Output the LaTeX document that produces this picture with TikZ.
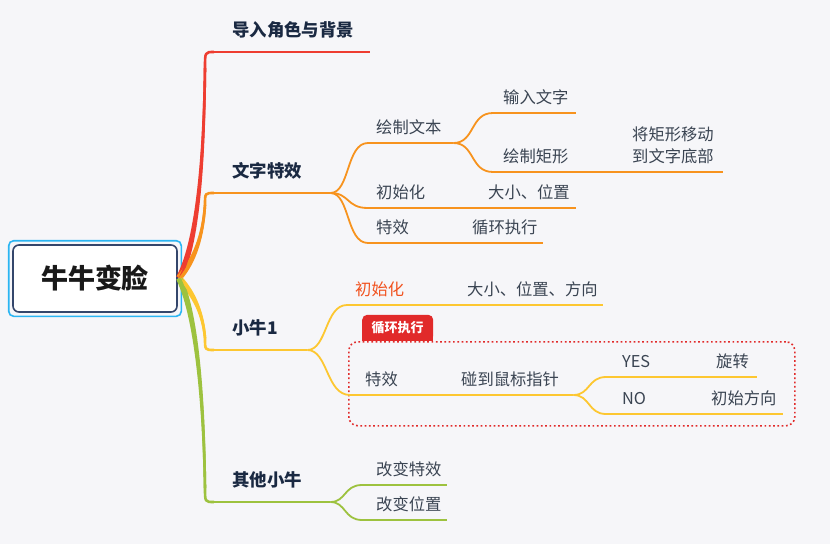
\documentclass[tikz,border=0pt]{standalone}
\usepackage{fontspec}
\setmainfont{Noto Sans CJK SC}
\definecolor{bgpaper}{HTML}{F6F6F9}
\definecolor{rootline}{HTML}{34466B}
\definecolor{rootcyan}{HTML}{2BB5F2}
\definecolor{bred}{HTML}{EE3D31}
\definecolor{borange}{HTML}{F7931E}
\definecolor{byellow}{HTML}{FDC731}
\definecolor{bgreen}{HTML}{9DC23F}
\definecolor{navy}{HTML}{1A2942}
\definecolor{slate}{HTML}{3A4452}
\definecolor{hilite}{HTML}{F1521F}
\definecolor{tabred}{HTML}{E12A2A}
\begin{document}
\begin{tikzpicture}[x=1pt,y=-1pt,
  rootbox/.style={draw=rootline, line width=1.6pt, fill=white, rounded corners=6pt,
    minimum width=164pt, minimum height=67pt, text=black!90,
    font=\bfseries\fontsize{27}{32}\selectfont},
  mtopic/.style={anchor=south west, inner xsep=18pt, inner ysep=15pt, text depth=0pt,
    align=left, text=navy, font=\bfseries\fontsize{17.4}{21}\selectfont},
  stopic/.style={anchor=south west, inner xsep=8pt, inner ysep=9pt, text depth=0pt,
    align=left, text=slate, font=\fontsize{16.3}{22}\selectfont},
  trunk/.style={line width=2.6pt},
  link/.style={line width=1.8pt},
  loopbox/.style={draw=tabred, line width=1.6pt, dash pattern=on 1.7pt off 2.6pt,
    rounded corners=9pt, anchor=north west, minimum width=446pt, minimum height=84pt},
  tab/.style={fill=tabred, rounded corners=5pt, anchor=south west, minimum width=71pt,
    minimum height=26pt, inner sep=0pt, text=white, font=\bfseries\fontsize{13}{15}\selectfont}]

  % paper
  \fill[bgpaper] (0,0) rectangle (830,544);
  \useasboundingbox (0,0) rectangle (830,544);

  % central topic
  \node[rootbox] (root) at (95,278.5) {牛牛变脸};
  \draw[rootcyan, line width=1.6pt, rounded corners=5pt]
    ([shift={(-3.5pt,3.5pt)}]root.north west) rectangle ([shift={(3.5pt,-3.5pt)}]root.south east);
  \coordinate (hub) at ([xshift=2pt]root.east);

  % main topics
  \node[mtopic, text width=120pt] (t1) at (214,52) {导入角色与背景};
  \node[mtopic, text width=80pt] (t2) at (214,193) {文字特效};
  \node[mtopic, text width=57pt] (t3) at (214,350) {小牛1};
  \node[mtopic, text width=80pt] (t4) at (214,502) {其他小牛};

  % text effect
  \node[stopic, text width=69pt] (s1) at (368,143) {绘制文本};
  \node[stopic, inner xsep=10pt, text width=63pt] (s11) at (493,113) {输入文字};
  \node[stopic, inner xsep=10pt, text width=107pt] (s12) at (493,172) {绘制矩形};
  \node[stopic, inner xsep=12pt, text width=79pt, text depth=22pt] (s121) at (620,172) {将矩形移动\\到文字底部};
  \node[stopic, text width=96pt] (s2) at (368,208) {初始化};
  \node[stopic, text width=80pt] (s21) at (480,208) {大小、位置};
  \node[stopic, text width=80pt] (s3) at (368,243) {特效};
  \node[stopic, text width=63pt] (s31) at (464,243) {循环执行};

  % calf 1
  \node[loopbox] (loop) at (348,341) {};
  \node[fill=tabred, anchor=south west, inner sep=0pt, minimum width=71pt, minimum height=13pt] (tabfoot) at (362,341) {};
  \node[tab] (tab) at (362,341) {循环执行};
  \node[stopic, text=hilite, text width=96pt] (u1) at (347,305) {初始化};
  \node[stopic, text width=128pt] (u11) at (459,305) {大小、位置、方向};
  \node[stopic, inner xsep=15pt, text width=73pt] (u2) at (350,395) {特效};
  \node[stopic, text width=104pt] (u21) at (453,395) {碰到鼠标指针};
  \node[stopic, inner xsep=16pt, text width=68pt] (y1) at (606,377) {YES};
  \node[stopic, inner xsep=10pt, text width=31pt] (y11) at (706,377) {旋转};
  \node[stopic, inner xsep=16pt, text width=63pt] (n1) at (606,414) {NO};
  \node[stopic, inner xsep=10pt, text width=62pt] (n11) at (701,414) {初始方向};

  % other calves
  \node[stopic, inner xsep=14pt, text width=57pt] (g1) at (362,485) {改变特效};
  \node[stopic, inner xsep=14pt, text width=57pt] (g2) at (362,520) {改变位置};

  % trunks, thick near the centre
  \fill[bred] (176.3,276.5) .. controls (196.5,239) and (202.7,150) .. (203.7,68)
    -- (206.3,68) .. controls (205.3,150) and (201.5,241) .. (181.7,279.5) -- cycle;
  \fill[borange] (177,275.7) .. controls (192.8,258) and (201.5,235) .. (203.7,205)
    -- (206.3,205) .. controls (204.5,235) and (197.2,262) .. (181,280.3) -- cycle;
  \fill[byellow] (181,275.7) .. controls (197.2,293) and (204.5,315) .. (206.3,338)
    -- (203.7,338) .. controls (201.5,315) and (192.8,297) .. (177,280.3) -- cycle;
  \fill[bgreen] (181.7,276.5) .. controls (201.5,319) and (205.3,420) .. (206.3,488)
    -- (203.7,488) .. controls (202.7,420) and (196.5,321) .. (176.3,279.5) -- cycle;
  \draw[trunk, bred] (hub) .. controls (199,240) and (204,150) .. (205,68)
    .. controls (205,52) .. (t1.south west);
  \draw[trunk, borange] (hub) .. controls (195,260) and (203,235) .. (205,205)
    .. controls (205,193) .. (t2.south west);
  \draw[trunk, byellow] (hub) .. controls (195,295) and (203,315) .. (205,338)
    .. controls (205,350) .. (t3.south west);
  \draw[trunk, bgreen] (hub) .. controls (199,320) and (204,420) .. (205,488)
    .. controls (205,502) .. (t4.south west);
  \foreach \n/\c in {t1/bred, t2/borange, t3/byellow, t4/bgreen}
    \draw[trunk, \c] (\n.south west) -- (\n.south east);

  % branches
  \draw[link, borange] (t2.south east) .. controls (350,193) and (346,143) .. (s1.south west);
  \draw[link, borange] (t2.south east) .. controls (350,193) and (346,208) .. (s2.south west);
  \draw[link, borange] (t2.south east) .. controls (350,193) and (346,243) .. (s3.south west);
  \draw[link, borange] (s1.south east) .. controls (475,143) and (470,113) .. (s11.south west);
  \draw[link, borange] (s1.south east) .. controls (475,143) and (470,172) .. (s12.south west);
  \draw[link, byellow] (t3.south east) .. controls (327,350) and (325,305) .. (u1.south west);
  \draw[link, byellow] (t3.south east) .. controls (328,350) and (326,395) .. (u2.south west);
  \draw[link, byellow] (u21.south east) .. controls (590,395) and (588,377) .. (y1.south west);
  \draw[link, byellow] (u21.south east) .. controls (590,395) and (588,414) .. (n1.south west);
  \draw[link, bgreen] (t4.south east) .. controls (346,502) and (344,485) .. (g1.south west);
  \draw[link, bgreen] (t4.south east) .. controls (346,502) and (344,520) .. (g2.south west);
  \foreach \n/\c in {s1/borange, s11/borange, s12/borange, s121/borange, s2/borange,
      s21/borange, s3/borange, s31/borange, u1/byellow, u11/byellow, u2/byellow,
      u21/byellow, y1/byellow, y11/byellow, n1/byellow, n11/byellow, g1/bgreen, g2/bgreen}
    \draw[link, \c] (\n.south west) -- (\n.south east);
\end{tikzpicture}
\end{document}
